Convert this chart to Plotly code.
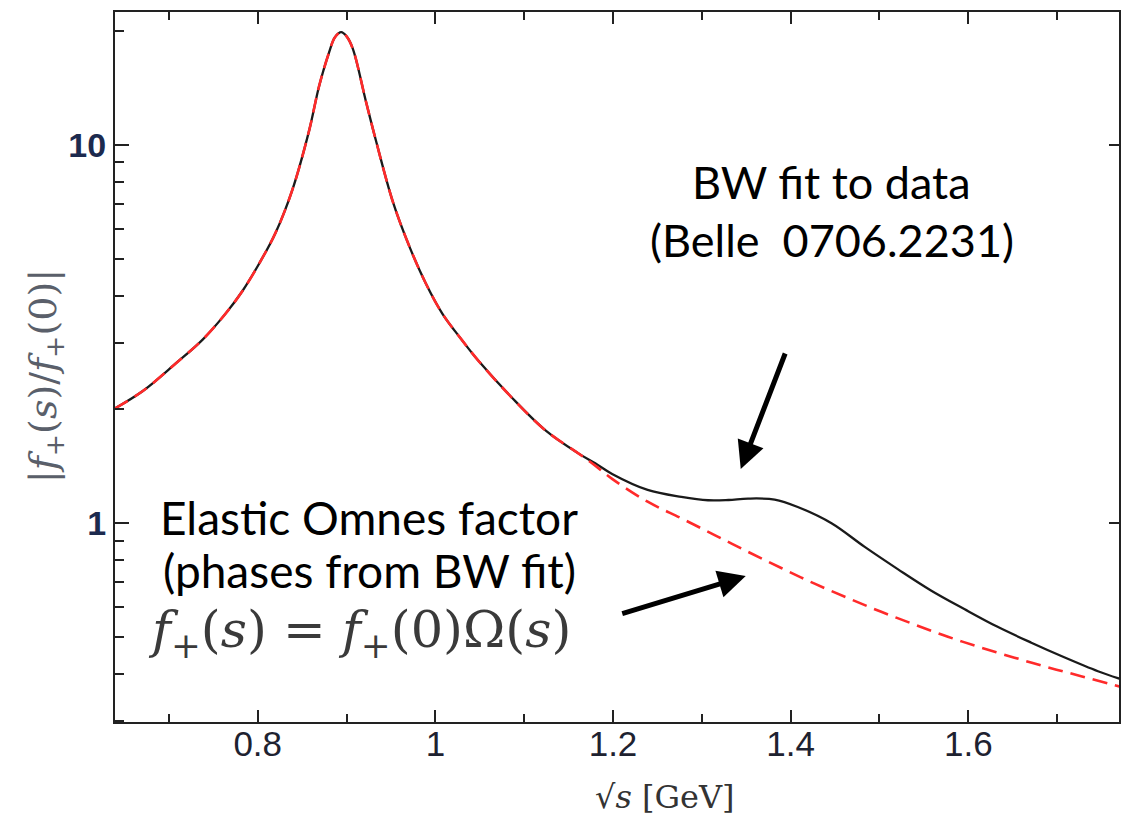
import plotly.graph_objects as go
import math

# ---- data ----
x_black = [0.639, 0.671, 0.708, 0.738, 0.764, 0.783, 0.802, 0.820, 0.839, 0.858,
           0.869, 0.880, 0.887, 0.894, 0.900, 0.907, 0.922, 0.933, 0.952, 0.970,
           0.989, 1.008, 1.030, 1.049, 1.086, 1.124, 1.161, 1.180, 1.199, 1.239,
           1.277, 1.307, 1.330, 1.352, 1.382, 1.408, 1.446, 1.483, 1.521, 1.558,
           1.596, 1.633, 1.671, 1.708, 1.746, 1.770]
y_black = [2.01, 2.24, 2.65, 3.06, 3.59, 4.12, 4.88, 5.86, 7.62, 10.96,
           14.3, 17.5, 19.3, 19.9, 19.4, 18.0, 13.0, 10.3, 7.1, 5.45,
           4.32, 3.58, 3.05, 2.68, 2.15, 1.76, 1.53, 1.44, 1.35, 1.225,
           1.174, 1.150, 1.152, 1.162, 1.155, 1.104, 1.000, 0.867, 0.755, 0.664,
           0.592, 0.532, 0.483, 0.442, 0.406, 0.388]

x_red = [0.639, 0.671, 0.708, 0.738, 0.764, 0.783, 0.802, 0.820, 0.839, 0.858,
         0.869, 0.880, 0.887, 0.894, 0.900, 0.907, 0.922, 0.933, 0.952, 0.970,
         0.989, 1.008, 1.030, 1.049, 1.086, 1.124, 1.161, 1.180, 1.199, 1.239,
         1.277, 1.315, 1.352, 1.390, 1.427, 1.465, 1.502, 1.540, 1.577, 1.614,
         1.652, 1.689, 1.727, 1.770]
y_red = [2.01, 2.24, 2.65, 3.06, 3.59, 4.12, 4.88, 5.86, 7.62, 10.96,
         14.3, 17.5, 19.3, 19.9, 19.4, 18.0, 13.0, 10.3, 7.1, 5.45,
         4.32, 3.58, 3.05, 2.68, 2.15, 1.76, 1.53, 1.42, 1.31, 1.14,
         1.03, 0.929, 0.840, 0.760, 0.692, 0.633, 0.583, 0.539, 0.501, 0.469,
         0.441, 0.416, 0.394, 0.370]

x_ticks = [0.8, 1.0, 1.2, 1.4, 1.6]
x_tick_labels = ["0.8", "1", "1.2", "1.4", "1.6"]
x_minor = [0.7, 0.9, 1.1, 1.3, 1.5, 1.7]
y_ticks = [1, 10]
y_tick_labels = ["<b>1</b>", "<b>10</b>"]
y_minor = [0.3, 0.4, 0.5, 0.6, 0.7, 0.8, 0.9, 2, 3, 4, 5, 6, 7, 8, 9, 20]

W, H = 1123, 823
L, R, T, B = 115, 2, 12, 101
pw, ph = W - L - R, H - T - B


def px(xp):
    return (xp - L) / pw


def py(yp):
    return (H - B - yp) / ph


fig = go.Figure()
fig.add_trace(go.Scatter(x=x_black, y=y_black, mode="lines", line_shape="spline",
                         line=dict(color="#1a1a1a", width=2.3), hoverinfo="skip",
                         showlegend=False))
fig.add_trace(go.Scatter(x=x_red, y=y_red, mode="lines", line_shape="spline",
                         line=dict(color="#ff2a2a", width=2.6, dash="15px,8px"),
                         hoverinfo="skip", showlegend=False))
# invisible trace to carry the right-hand tick axis
fig.add_trace(go.Scatter(x=x_black, y=y_black, mode="lines", yaxis="y2",
                         line=dict(width=0), opacity=0, hoverinfo="skip",
                         showlegend=False))

yr = [math.log10(0.298), math.log10(22.5)]
xr = [0.6393, 1.7697]

fig.update_layout(
    width=W, height=H,
    margin=dict(l=L, r=R, t=T, b=B),
    paper_bgcolor="white", plot_bgcolor="white",
    xaxis=dict(range=xr, tickvals=x_ticks, ticktext=x_tick_labels,
               ticks="inside", ticklen=12, tickwidth=2, tickcolor="#222",
               showline=True, linecolor="#222", linewidth=2, mirror="ticks",
               showgrid=False, zeroline=False, ticklabelstandoff=-10,
               tickfont=dict(family="Liberation Sans, Arial", size=35, color="#1e2230"),
               minor=dict(tickvals=x_minor, ticks="inside", ticklen=8,
                          tickwidth=1.6, tickcolor="#222", showgrid=False)),
    yaxis=dict(type="log", range=yr, tickvals=y_ticks, ticktext=y_tick_labels,
               ticks="inside", ticklen=14, tickwidth=2, tickcolor="#222",
               showline=True, linecolor="#222", linewidth=2, mirror=True,
               showgrid=False, zeroline=False,
               tickfont=dict(family="Liberation Sans, Arial", size=34, color="#1c2a4e"),
               minor=dict(tickvals=y_minor, ticks="inside", ticklen=9,
                          tickwidth=1.6, tickcolor="#222", showgrid=False)),
    yaxis2=dict(type="log", range=yr, overlaying="y", side="right",
                tickvals=y_ticks, showticklabels=False, ticks="inside",
                ticklen=10, tickwidth=1.6, tickcolor="#222", showgrid=False,
                zeroline=False, showline=False),
)

gill = "Lato, Open Sans, sans-serif"
serif = "DejaVu Serif, Liberation Serif"


def txt(text, x, y, size, family, color="black", angle=0):
    return dict(text=text, x=px(x), y=py(y), xref="paper", yref="paper",
                xanchor="center", yanchor="middle", showarrow=False,
                textangle=angle, font=dict(family=family, size=size, color=color))


ann = [
    txt("BW fit to data", 833, 182, 45, gill),
    txt("(Belle\u00a0 0706.2231)", 833, 240, 45, gill),
    txt("Elastic Omnes factor", 370, 517, 46, gill),
    txt("(phases from BW fit)", 370, 570, 46, gill),
    txt("<i>f</i><sub>+</sub>(<i>s</i>) = <i>f</i><sub>+</sub>(0)Ω(<i>s</i>)",
        360, 633, 51, serif, "#3a3a3a"),
    txt("|<i>f</i><sub>+</sub>(<i>s</i>)/<i>f</i><sub>+</sub>(0)|", 45, 376, 38,
        serif, "#5a5f6a", -90),
    txt("√<i>s</i> [GeV]", 666, 797, 32, serif, "#333"),
]
# arrows
ann.append(dict(text="", x=px(742), y=py(469), xref="paper", yref="paper",
                showarrow=True, axref="pixel", ayref="pixel", ax=45, ay=-117,
                arrowhead=2, arrowsize=1.1, arrowwidth=5, arrowcolor="black"))
ann.append(dict(text="", x=px(747), y=py(576), xref="paper", yref="paper",
                showarrow=True, axref="pixel", ayref="pixel", ax=-125, ay=38,
                arrowhead=2, arrowsize=1.1, arrowwidth=5, arrowcolor="black"))
fig.update_layout(annotations=ann)

fig.write_html("out.html",
               config={"displayModeBar": False},
               post_script="document.body.style.margin='0px';"
                           "document.body.style.overflow='hidden';")
